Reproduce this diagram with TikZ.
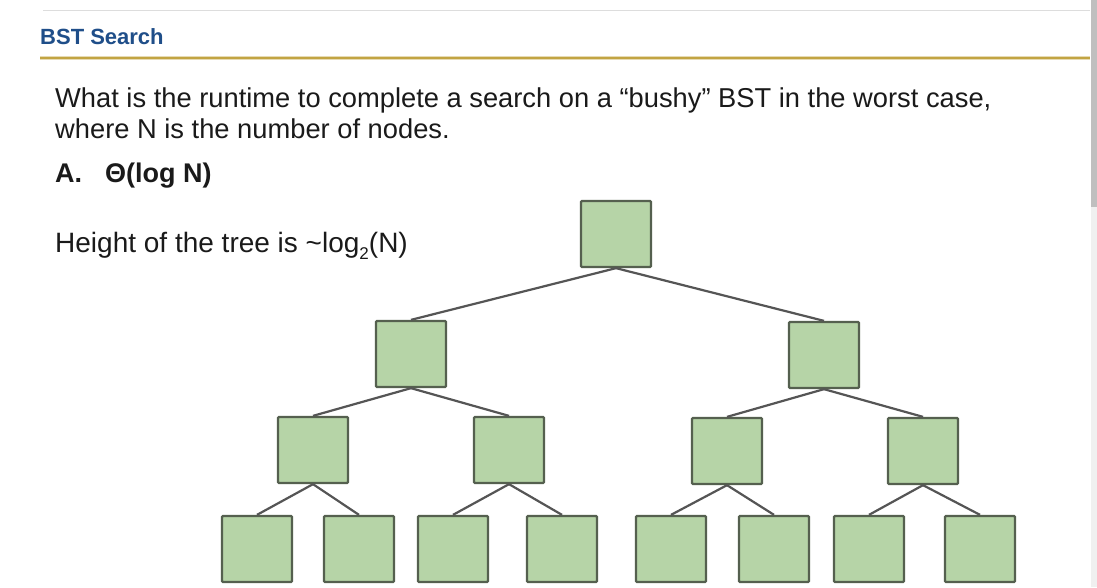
\documentclass[tikz,border=0pt]{standalone}
\usepackage{fontspec}
\setmainfont{Liberation Sans}
\definecolor{boxfill}{HTML}{B6D4A7}
\definecolor{boxedge}{HTML}{55604F}
\definecolor{edgecol}{HTML}{555555}
\definecolor{titleblue}{HTML}{1F4E89}
\definecolor{gold}{HTML}{C2A443}
\definecolor{paleline}{HTML}{DDDDDD}
\definecolor{txt}{HTML}{1A1A1A}
\tikzset{
  treebox/.style={draw=boxedge, fill=boxfill, line width=2.3pt, minimum width=70pt, minimum height=66pt, inner sep=0pt, rounded corners=1pt},
  treeedge/.style={draw=edgecol, line width=2.2pt},
  bodytext/.style={anchor=base west, inner sep=0pt, text=txt, font=\fontsize{27.3}{32}\selectfont}
}
\begin{document}
\begin{tikzpicture}[x=1pt,y=-1pt]
\useasboundingbox[fill=white] (0,0) rectangle (1097,587);
% scrollbar
\fill[black!6] (1091,207) rectangle (1097,587);
\fill[black!25] (1091,0) rectangle (1097,207);
% header lines
\draw[paleline, line width=1pt] (43,10) -- (1090,10);
\draw[gold!40, line width=4pt] (40,58) -- (1090,58);
\draw[gold, line width=1.8pt] (40,58) -- (1090,58);
\node[anchor=base west, inner sep=0pt, text=titleblue, font=\fontsize{22}{26}\selectfont\bfseries] (title) at (40,44) {BST Search};
% question text
\node[bodytext] (q1) at (55,107) {What is the runtime to complete a search on a “bushy” BST in the worst case,};
\node[bodytext] (q2) at (55,138) {where N is the number of nodes.};
\node[bodytext, font=\fontsize{27}{31}\selectfont\bfseries] (ans) at (55,182) {A.\hspace{23pt}Θ(log N)};
\node[bodytext, font=\fontsize{28}{32}\selectfont] (height) at (55,252) {Height of the tree is \textasciitilde log\raisebox{-0.5ex}{\fontsize{17}{18}\selectfont 2}(N)};
% tree
\node[treebox] (r) at (616,234) {};
\node[treebox] (a) at (411,354) {};
\node[treebox] (b) at (824,355) {};
\node[treebox] (aa) at (313,450) {};
\node[treebox] (ab) at (509,450) {};
\node[treebox] (ba) at (727,451) {};
\node[treebox] (bb) at (923,451) {};
\node[treebox] (aaa) at (257,549) {};
\node[treebox] (aab) at (359,549) {};
\node[treebox] (aba) at (453,549) {};
\node[treebox] (abb) at (562,549) {};
\node[treebox] (baa) at (671,549) {};
\node[treebox] (bab) at (774,549) {};
\node[treebox] (bba) at (869,549) {};
\node[treebox] (bbb) at (980,549) {};
\foreach \p/\c in {r/a, r/b, a/aa, a/ab, b/ba, b/bb, aa/aaa, aa/aab, ab/aba, ab/abb, ba/baa, ba/bab, bb/bba, bb/bbb}
  \draw[treeedge] (\p.south) -- (\c.north);
\end{tikzpicture}
\end{document}
